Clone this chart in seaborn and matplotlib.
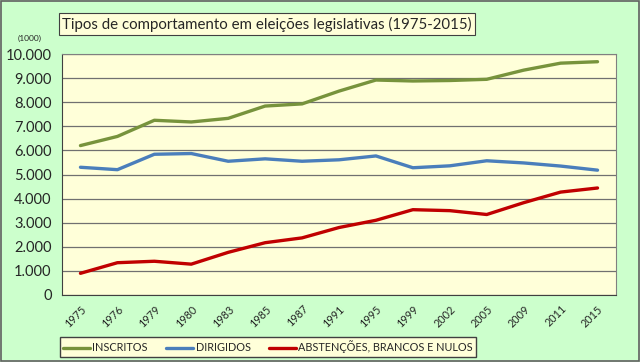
import numpy as np
import pandas as pd
import matplotlib.pyplot as plt
import seaborn as sns
from matplotlib.ticker import FuncFormatter

anos = ['1975', '1976', '1979', '1980', '1983', '1985', '1987', '1991',
        '1995', '1999', '2002', '2005', '2009', '2011', '2015']
inscritos = [6200, 6580, 7250, 7180, 7330, 7840, 7930, 8460,
             8920, 8880, 8900, 8950, 9330, 9620, 9680]
dirigidos = [5300, 5200, 5840, 5870, 5550, 5650, 5550, 5610,
             5770, 5280, 5360, 5570, 5480, 5350, 5180]
abstencoes = [900, 1340, 1400, 1280, 1770, 2170, 2370, 2800,
              3100, 3540, 3500, 3340, 3830, 4270, 4440]
series = ['INSCRITOS', 'DIRIGIDOS', 'ABSTENÇÕES, BRANCOS E NULOS']
cores = ['#77933C', '#4A7EBB', '#C00000']

df = pd.DataFrame({'ano': anos * 3,
                   'valor': inscritos + dirigidos + abstencoes,
                   'serie': np.repeat(series, len(anos))})
df['pos'] = np.tile(np.arange(len(anos)), 3)

sns.set_style('white')
plt.rcParams['font.family'] = ['Lato', 'DejaVu Sans']

fig = plt.figure(figsize=(6.4, 3.62), dpi=100, facecolor='#CCFFCC')
ax = fig.add_axes([62 / 640, 1 - 295 / 362, 554 / 640, 241 / 362])
ax.set_facecolor('#FFFFD9')

sns.lineplot(data=df, x='pos', y='valor', hue='serie', palette=cores,
             linewidth=2.4, ax=ax, legend=False)

ax.set_xlim(-0.5, len(anos) - 0.5)
ax.set_ylim(0, 10000)
ax.set_yticks(np.arange(0, 10001, 1000))
ax.yaxis.set_major_formatter(FuncFormatter(lambda v, p: f'{int(v):,}'.replace(',', '.')))
ax.set_xticks(np.arange(len(anos)))
ax.set_xticklabels(anos, rotation=45, fontsize=7.8, ha='right', rotation_mode='anchor')
ax.set_xticks(np.arange(-0.5, len(anos)), minor=True)
ax.tick_params(axis='x', which='major', length=0, pad=6)
ax.tick_params(axis='x', which='minor', length=4, color='#404040', direction='out')
ax.tick_params(axis='y', length=4, color='#404040', direction='out', labelsize=10.5)
ax.grid(axis='y', color='#707070', linewidth=0.9)
ax.set_axisbelow(True)
for s in ['top', 'right']:
    ax.spines[s].set_color('#808080')
for s in ['left', 'bottom']:
    ax.spines[s].set_color('#404040')
ax.set_xlabel('')
ax.set_ylabel('')

fig.text(30 / 640, 1 - 38 / 362, '(1000)', fontsize=6, ha='center', va='center')
fig.text(267 / 640, 1 - 24 / 362,
         'Tipos de comportamento em eleições legislativas (1975-2015)',
         fontsize=10.8, ha='center', va='center',
         bbox=dict(boxstyle='square,pad=0.22', fc='#FFFFD9', ec='#404040', lw=0.8))

handles = [plt.Line2D([], [], color=c, lw=2.4) for c in cores]
fig.legend(handles, series, loc='center', bbox_to_anchor=(268 / 640, 1 - 347 / 362),
           ncol=3, fontsize=7.8, frameon=True, fancybox=False, edgecolor='#404040',
           facecolor='#FFFFD9', handlelength=2.5, handletextpad=0.2,
           columnspacing=1.7, borderpad=0.3, framealpha=1)

fig.patches.append(plt.Rectangle((0.002, 0.003), 0.996, 0.994, transform=fig.transFigure,
                                 fill=False, ec='#606060', lw=1.2))
fig.savefig('out.png', dpi=100, facecolor=fig.get_facecolor())
